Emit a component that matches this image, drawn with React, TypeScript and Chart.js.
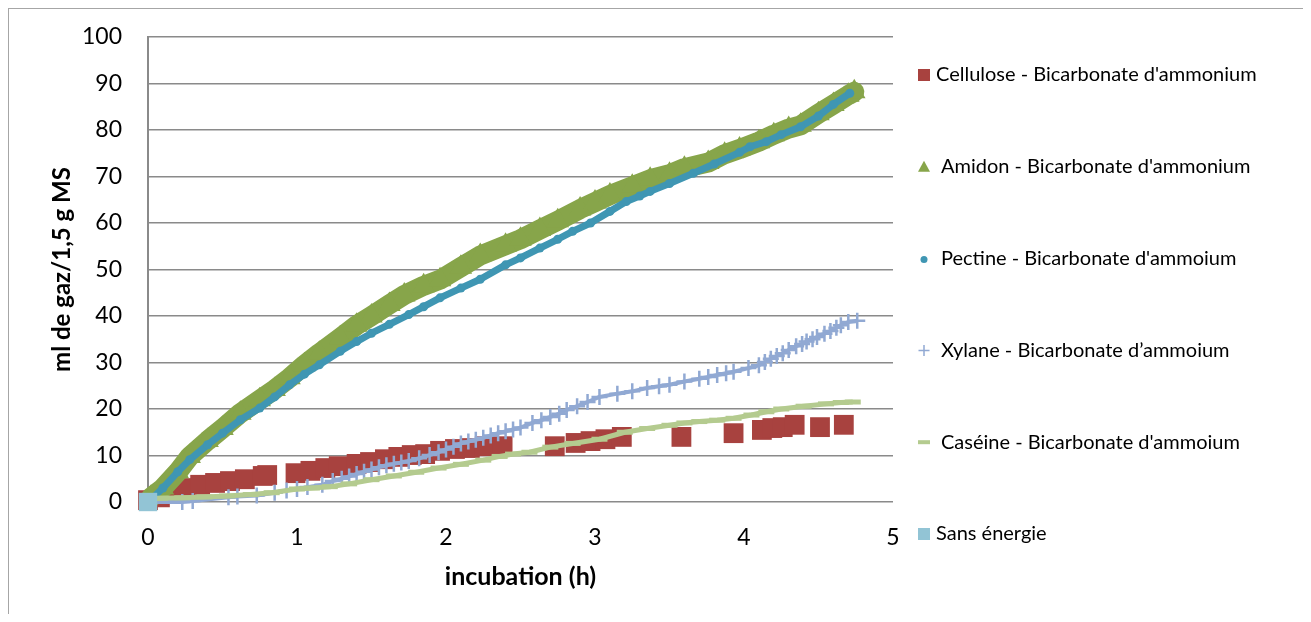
import React, { useEffect, useRef } from 'react';
import { Chart, registerables } from 'chart.js';

Chart.register(...registerables);

// ---- Data ----
const xTickValues = [0, 1, 2, 3, 4, 5];
const yTickValues = [0, 10, 20, 30, 40, 50, 60, 70, 80, 90, 100];

const seriesNames = [
  "Cellulose - Bicarbonate d'ammonium",
  "Amidon - Bicarbonate d'ammonium",
  "Pectine - Bicarbonate d'ammoium",
  "Xylane - Bicarbonate d\u2019ammoium",
  "Caséine - Bicarbonate d'ammoium",
  'Sans énergie',
];

const celluloseX = [0, 0.08, 0.16, 0.25, 0.35, 0.45, 0.55, 0.65, 0.77, 0.8, 0.99, 1.09, 1.19, 1.28, 1.4, 1.49, 1.59, 1.68, 1.77, 1.86, 1.96, 2.06, 2.16, 2.26, 2.38, 2.73, 2.87, 2.97, 3.07, 3.18, 3.58, 3.93, 4.12, 4.19, 4.26, 4.34, 4.51, 4.67];
const celluloseY = [0.4, 1, 2.2, 3, 3.7, 4.1, 4.5, 4.9, 5.6, 5.8, 6.2, 6.7, 7.3, 7.7, 8.2, 8.6, 9.2, 9.7, 10.1, 10.3, 11, 11.4, 11.6, 12, 12, 12, 12.7, 13.1, 13.5, 14, 14, 14.8, 15.5, 15.9, 16.1, 16.6, 16.1, 16.6];

const amidonX = [0.02, 0.1, 0.2, 0.28, 0.4, 0.5, 0.62, 0.75, 0.85, 0.95, 1.05, 1.15, 1.29, 1.4, 1.5, 1.62, 1.72, 1.85, 1.96, 2.1, 2.23, 2.4, 2.5, 2.63, 2.75, 2.9, 3.0, 3.1, 3.25, 3.37, 3.5, 3.6, 3.76, 3.87, 3.97, 4.1, 4.2, 4.3, 4.38, 4.5, 4.6, 4.7, 4.74];
const amidonY = [1, 3, 6.5, 9.8, 13.2, 15.8, 19.1, 22, 24.2, 26.7, 29.5, 32, 35.3, 38, 40, 42.5, 44.5, 46.5, 47.8, 50.5, 53, 55.2, 56.5, 58.6, 60.5, 63, 64.5, 66, 67.9, 69.4, 70.5, 71.8, 73, 74.8, 75.9, 77.5, 79, 80.3, 81, 83.5, 85.5, 87.5, 88.2];

const pectineX = [0.02, 0.1, 0.2, 0.28, 0.4, 0.5, 0.62, 0.75, 0.85, 0.95, 1.05, 1.15, 1.29, 1.4, 1.5, 1.62, 1.75, 1.85, 1.96, 2.1, 2.23, 2.4, 2.5, 2.63, 2.75, 2.85, 2.97, 3.1, 3.21, 3.3, 3.37, 3.5, 3.66, 3.8, 3.97, 4.04, 4.15, 4.25, 4.38, 4.5, 4.6, 4.71];
const pectineY = [0.5, 3, 6.5, 9.1, 12.3, 14.8, 17.7, 20.2, 22.6, 25.2, 27.5, 29.5, 32.4, 34.5, 36.3, 38.2, 40.3, 42, 43.9, 46, 47.9, 51, 52.5, 54.6, 56.5, 58.2, 60, 62.5, 64.6, 65.8, 66.8, 68.5, 70.7, 72.7, 75.2, 76.4, 77.5, 79, 80.7, 83, 85.5, 87.9];

const xylaneX = [0, 0.23, 0.3, 0.54, 0.6, 0.73, 0.85, 0.93, 1.0, 1.07, 1.17, 1.24, 1.3, 1.35, 1.4, 1.45, 1.5, 1.55, 1.6, 1.65, 1.7, 1.75, 1.82, 1.89, 1.95, 2.0, 2.05, 2.1, 2.15, 2.2, 2.25, 2.3, 2.35, 2.4, 2.45, 2.5, 2.58, 2.64, 2.7, 2.76, 2.81, 2.88, 2.95, 3.03, 3.15, 3.25, 3.35, 3.43, 3.5, 3.6, 3.7, 3.76, 3.82, 3.88, 3.93, 4.03, 4.1, 4.14, 4.18, 4.22, 4.26, 4.3, 4.35, 4.39, 4.42, 4.46, 4.49, 4.54, 4.58, 4.62, 4.65, 4.7, 4.76];
const xylaneY = [0, 0, 0.2, 1, 1.2, 1.4, 2, 2.5, 2.8, 3.2, 3.7, 4.5, 5, 5.5, 6, 6.5, 7, 7.5, 7.9, 8.2, 8.5, 8.8, 9.4, 10.1, 10.7, 11.3, 11.9, 12.6, 13, 13.4, 13.8, 14.3, 14.8, 15.2, 15.6, 16, 17, 17.6, 18.3, 19, 19.8, 20.6, 21.5, 22.6, 23.3, 23.8, 24.5, 24.9, 25.2, 25.9, 26.5, 26.9, 27.3, 27.7, 28, 28.8, 29.4, 30.1, 30.8, 31.4, 32, 32.7, 33.5, 34, 34.5, 35, 35.5, 36.2, 36.8, 37.5, 38, 38.7, 39];

const caseineX = [0, 0.08, 0.23, 0.38, 0.53, 0.69, 0.83, 1.0, 1.1, 1.22, 1.35, 1.5, 1.65, 1.8, 1.95, 2.1, 2.25, 2.36, 2.45, 2.56, 2.7, 2.85, 3.03, 3.2, 3.35, 3.5, 3.6, 3.7, 3.82, 3.93, 4.05, 4.15, 4.25, 4.4, 4.55, 4.65, 4.73];
const caseineY = [0.5, 0.8, 0.9, 1.1, 1.3, 1.6, 2.0, 2.8, 3.0, 3.3, 3.9, 4.8, 5.6, 6.4, 7.3, 8.1, 9.0, 9.8, 10.3, 10.7, 11.8, 12.6, 13.5, 15, 15.8, 16.5, 17, 17.3, 17.6, 18, 18.7, 19.4, 20, 20.6, 21.1, 21.4, 21.5];

const sansEnergieX = [0];
const sansEnergieY = [0];

// ---- Styles ----
const colCellulose = '#A8423F';
const colAmidon = '#87A54A';
const colPectine = '#3F96B3';
const colXylane = '#91A9D3';
const colCaseine = '#B4CB8F';
const colSans = '#92C4D5';

const FONT = 'Lato';

const toPts = (xs: number[], ys: number[]) => xs.map((x, i) => ({ x, y: ys[i] }));

const legendPlugin = {
  id: 'sideLegend',
  afterDraw(chart: any) {
    const { ctx, chartArea } = chart;
    const mx = chartArea.right + 31;
    const textX = [chartArea.right + 43, chartArea.right + 48, chartArea.right + 48, chartArea.right + 48, chartArea.right + 48, chartArea.right + 43];
    ctx.save();
    ctx.font = `20px ${FONT}`;
    ctx.textBaseline = 'middle';
    ctx.textAlign = 'left';
    seriesNames.forEach((name, i) => {
      const y = chartArea.top + 38 + i * 91.8;
      ctx.save();
      if (i === 0 || i === 5) {
        ctx.fillStyle = i === 0 ? colCellulose : colSans;
        ctx.fillRect(mx - 6, y - 6, 12, 12);
      } else if (i === 1) {
        ctx.fillStyle = colAmidon;
        ctx.beginPath();
        ctx.moveTo(mx, y - 6);
        ctx.lineTo(mx + 6, y + 5);
        ctx.lineTo(mx - 6, y + 5);
        ctx.closePath();
        ctx.fill();
      } else if (i === 2) {
        ctx.fillStyle = colPectine;
        ctx.beginPath();
        ctx.arc(mx, y + 1, 3.5, 0, Math.PI * 2);
        ctx.fill();
      } else if (i === 3) {
        ctx.strokeStyle = colXylane;
        ctx.lineWidth = 1.5;
        ctx.beginPath();
        ctx.moveTo(mx - 5.5, y);
        ctx.lineTo(mx + 5.5, y);
        ctx.moveTo(mx, y - 5.5);
        ctx.lineTo(mx, y + 5.5);
        ctx.stroke();
      } else if (i === 4) {
        ctx.fillStyle = colCaseine;
        ctx.fillRect(mx - 6, y - 2, 12, 4);
      }
      ctx.restore();
      ctx.fillStyle = '#000';
      ctx.fillText(name, textX[i], y);
    });
    ctx.restore();
  },
};

export default function App() {
  const ref = useRef<HTMLCanvasElement>(null);

  useEffect(() => {
    if (!ref.current) return;
    const chart = new Chart(ref.current, {
      type: 'scatter',
      data: {
        datasets: [
          {
            label: seriesNames[0],
            data: toPts(celluloseX, celluloseY),
            showLine: false,
            clip: false,
            pointStyle: 'rect',
            pointRadius: 14,
            pointBackgroundColor: colCellulose,
            pointBorderWidth: 0,
            pointBorderColor: colCellulose,
            order: 6,
          },
          {
            label: seriesNames[1],
            data: toPts(amidonX, amidonY),
            showLine: true,
            clip: false,
            borderColor: colAmidon,
            borderWidth: 20,
            borderJoinStyle: 'round',
            borderCapStyle: 'round',
            pointStyle: 'triangle',
            pointRadius: 13,
            pointBackgroundColor: colAmidon,
            pointBorderColor: colAmidon,
            pointBorderWidth: 0,
            order: 5,
          },
          {
            label: seriesNames[2],
            data: toPts(pectineX, pectineY),
            showLine: true,
            clip: false,
            borderColor: colPectine,
            borderWidth: 7,
            borderJoinStyle: 'round',
            borderCapStyle: 'round',
            pointStyle: 'circle',
            pointRadius: 4.5,
            pointBackgroundColor: colPectine,
            pointBorderColor: colPectine,
            pointBorderWidth: 0,
            order: 4,
          },
          {
            label: seriesNames[3],
            data: toPts(xylaneX, xylaneY),
            showLine: true,
            clip: false,
            borderColor: colXylane,
            borderWidth: 4,
            borderJoinStyle: 'round',
            pointStyle: 'cross',
            pointRadius: 8,
            pointBackgroundColor: colXylane,
            pointBorderColor: colXylane,
            pointBorderWidth: 2.5,
            order: 3,
          },
          {
            label: seriesNames[4],
            data: toPts(caseineX, caseineY),
            showLine: true,
            clip: false,
            borderColor: colCaseine,
            borderWidth: 5,
            borderJoinStyle: 'round',
            pointStyle: 'line',
            pointRadius: 8,
            pointBackgroundColor: colCaseine,
            pointBorderColor: colCaseine,
            pointBorderWidth: 5,
            order: 2,
          },
          {
            label: seriesNames[5],
            data: toPts(sansEnergieX, sansEnergieY),
            showLine: false,
            clip: false,
            pointStyle: 'rect',
            pointRadius: 13,
            pointBackgroundColor: colSans,
            pointBorderColor: colSans,
            pointBorderWidth: 0,
            order: 1,
          },
        ],
      },
      options: {
        responsive: false,
        animation: false,
        layout: { padding: { left: 0, top: 28, right: 410, bottom: 12 } },
        plugins: {
          legend: { display: false },
          tooltip: { enabled: false },
        },
        scales: {
          x: {
            type: 'linear',
            min: 0,
            max: 5,
            afterBuildTicks: (scale: any) => {
              scale.ticks = xTickValues.map((v) => ({ value: v }));
            },
            afterFit: (scale: any) => {
              scale.height = 100;
            },
            grid: { display: false, drawTicks: false },
            border: { display: false },
            ticks: {
              color: '#000',
              padding: 22,
              font: { family: FONT, size: 23 },
            },
            title: {
              display: true,
              text: 'incubation (h)',
              color: '#000',
              font: { family: FONT, size: 25, weight: 'bold' },
              padding: { top: 0, bottom: 10 },
            },
          },
          y: {
            type: 'linear',
            min: 0,
            max: 100,
            afterBuildTicks: (scale: any) => {
              scale.ticks = yTickValues.map((v) => ({ value: v }));
            },
            afterFit: (scale: any) => {
              scale.width = 139;
              scale.paddingTop = 0;
              scale.paddingBottom = 0;
            },
            grid: { color: '#8a8a8a', lineWidth: 1.4, drawTicks: false },
            border: { display: true, color: '#8a8a8a', width: 2 },
            ticks: {
              color: '#000',
              padding: 26,
              font: { family: FONT, size: 23 },
            },
            title: {
              display: true,
              text: 'ml de gaz/1,5 g MS',
              color: '#000',
              font: { family: FONT, size: 24, weight: 'bold' },
              padding: { top: 39, bottom: 0 },
            },
          },
        },
      },
      plugins: [legendPlugin],
    });
    return () => chart.destroy();
  }, []);

  return (
    <div
      style={{
        width: 1296,
        height: 606,
        boxSizing: 'border-box',
        borderTop: '1px solid #a6a6a6',
        borderLeft: '1px solid #a6a6a6',
        borderRight: '1px solid #a6a6a6',
        background: '#fff',
      }}
    >
      <canvas ref={ref} width={1294} height={605} style={{ display: 'block' }} />
    </div>
  );
}
